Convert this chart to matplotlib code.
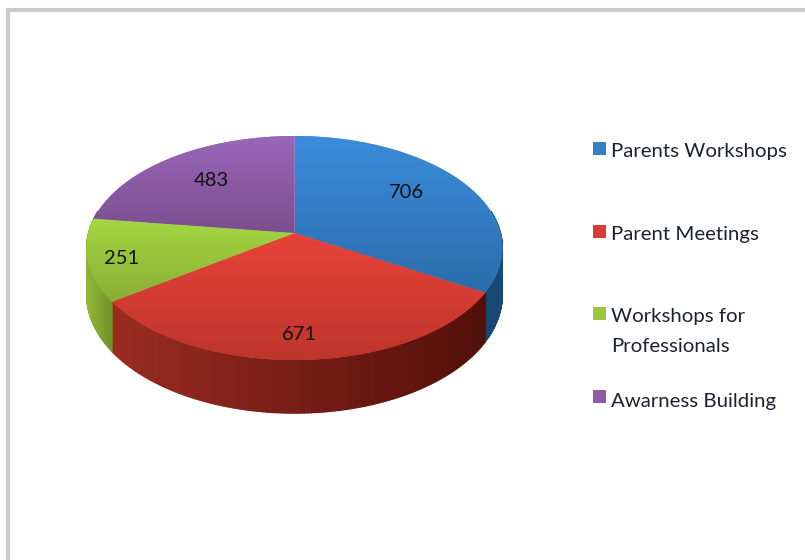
import numpy as np
import matplotlib
matplotlib.use("Agg")
import matplotlib.pyplot as plt
from matplotlib.collections import PolyCollection
from matplotlib.colors import LinearSegmentedColormap, to_rgb
from matplotlib.patches import Polygon, Rectangle

# data
categories = ["Parents Workshops", "Parent Meetings", "Workshops for\nProfessionals", "Awarness Building"]
values = [706, 671, 251, 483]

# styles
top_light = ["#3b8cdb", "#e8433a", "#a4d842", "#9b67ba"]
top_dark = ["#2c6dab", "#bd352b", "#8aad34", "#7a4e8f"]
wall_left = ["#0e3050", "#9a2c22", "#90b838", "#5f3d72"]
wall_right = ["#174a75", "#520f09", "#6d9226", "#5f3d72"]
legend_colors = ["#3180c8", "#d93e35", "#9ac63c", "#8e5ba8"]

# layout (figure pixels)
CX, CY, A, B, K = 294.5, 233.0, 206.0, 110.0, 0.134
DEPTH = 46.0
label_xy = [(406, 193), (299, 335), (122, 259), (211, 180)]
legend_y = [150, 233, 315, 400]
legend_sq_y = [148, 231, 313, 396]

fig = plt.figure(figsize=(8.05, 5.6), dpi=100)
ax = fig.add_axes([0, 0, 1, 1])
ax.set_xlim(0, 805)
ax.set_ylim(560, 0)
ax.axis("off")


def project(theta, r=1.0):
    """Perspective view of the pie plane; theta runs clockwise from 12 o'clock."""
    x, y = r * np.sin(theta), r * np.cos(theta)
    d = 1 + K * y
    return CX + A * x / d, CY - B * y / d, d


# frame
ax.add_patch(Rectangle((8, 10), 900, 700, fc="white", ec="#c9c9c9", lw=3, zorder=0))

edges = np.concatenate([[0], np.cumsum(values)]) / np.sum(values) * 2 * np.pi

# side walls
for i in range(len(values)):
    th = np.linspace(edges[i], edges[i + 1], max(int((edges[i + 1] - edges[i]) * 70), 2))
    px, py, d = project(th)
    dep = DEPTH / d
    quads, cols = [], []
    xspan = max(px.max() - px.min(), 1)
    c0, c1 = np.array(to_rgb(wall_left[i])), np.array(to_rgb(wall_right[i]))
    for j in range(len(th) - 1):
        if np.cos(th[j]) > 0.2 and np.cos(th[j + 1]) > 0.2:
            continue
        quads.append([(px[j], py[j]), (px[j + 1], py[j + 1]),
                      (px[j + 1], py[j + 1] + dep[j + 1]), (px[j], py[j] + dep[j])])
        t = (0.5 * (px[j] + px[j + 1]) - px.min()) / xspan
        cols.append(c0 * (1 - t) + c1 * t)
    ax.add_collection(PolyCollection(quads, facecolors=cols, edgecolors=cols, linewidths=0.9, zorder=2))

# top faces
for i in range(len(values)):
    th = np.linspace(edges[i], edges[i + 1], 200)
    px, py, _ = project(th)
    xs = np.concatenate([[CX], px])
    ys = np.concatenate([[CY], py])
    poly = Polygon(np.column_stack([xs, ys]), closed=True, fc=top_light[i], ec="none", zorder=3)
    ax.add_patch(poly)
    cmap = LinearSegmentedColormap.from_list("g", [top_light[i], top_dark[i]])
    im = ax.imshow(np.linspace(0, 1, 256)[:, None], cmap=cmap, aspect="auto",
                   extent=(xs.min(), xs.max(), ys.max(), ys.min()), zorder=3.1,
                   interpolation="bilinear")
    im.set_clip_path(poly)
ax.set_xlim(0, 805)
ax.set_ylim(560, 0)

# value labels
font = "Lato"
for v, (x, y) in zip(values, label_xy):
    ax.text(x, y, str(v), ha="center", va="center", fontsize=14.5, family=font, color="#111111", zorder=5)

# legend
for name, col, y, sy in zip(categories, legend_colors, legend_y, legend_sq_y):
    ax.add_patch(Rectangle((593, sy - 6.5), 13, 13, fc=col, ec="none", zorder=5))
    ax.text(611, y - 7, name, ha="left", va="top", fontsize=14.7, family=font,
            color="#1c2330", linespacing=1.93, zorder=5)

fig.savefig("out.png", dpi=100)
